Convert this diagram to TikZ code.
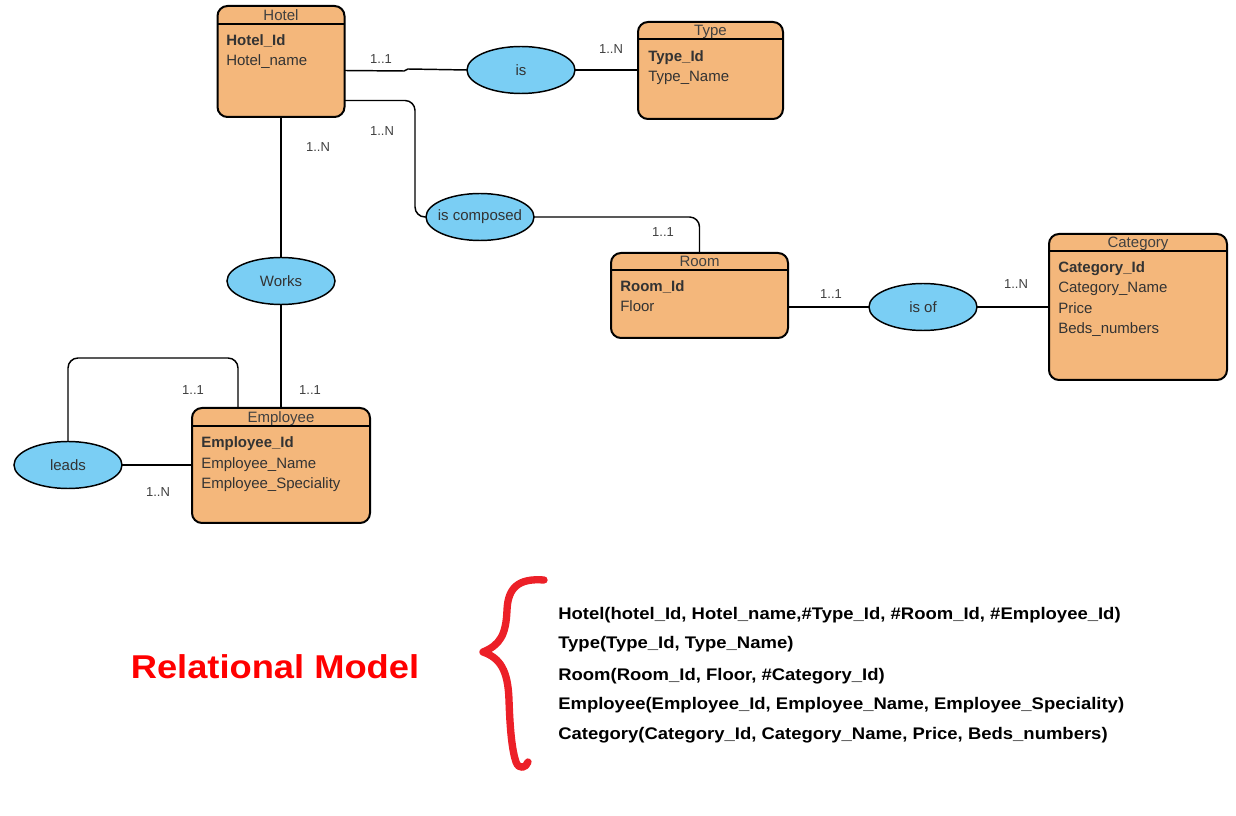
\documentclass[tikz,border=0pt]{standalone}
\usepackage{fontspec}
\setmainfont{Liberation Sans}
\newfontfamily\relfont[FakeStretch=1.1]{Liberation Sans}
\usetikzlibrary{shapes.geometric,calc}

\definecolor{entfill}{RGB}{244,183,123}
\definecolor{relfill}{RGB}{122,206,244}
\definecolor{bracered}{RGB}{236,32,40}

\newcommand\erfont{\fontsize{11.25}{13.5}\selectfont}
\newcommand\cardfont{\fontsize{9.75}{11.5}\selectfont}

\tikzset{
  entity/.style={draw=black, fill=entfill, line width=1.5pt, rounded corners=7.5pt, inner sep=0pt, outer sep=0pt},
  relation/.style={ellipse, draw=black, fill=relfill, line width=1.1pt, inner sep=0pt, outer sep=0pt,
    minimum width=81pt, minimum height=35.25pt, font=\erfont, text=black!80},
  etitle/.style={font=\erfont, text=black!75, inner sep=0pt, text height=10pt, text depth=1.5pt},
  attr/.style={font=\erfont, text=black!80, anchor=west, inner sep=0pt, text height=10pt, text depth=1.5pt},
  card/.style={font=\cardfont, text=black!75, inner sep=0pt},
  link/.style={line width=1.1pt, rounded corners=7.5pt},
  relline/.style={font=\relfont\fontsize{12.6}{15}\selectfont\bfseries, anchor=west, inner sep=0pt,
    text height=11pt, text depth=2pt}
}

\begin{document}
\begin{tikzpicture}[x=0.75pt,y=0.75pt,yscale=-1,xscale=1]
\useasboundingbox (0,0) rectangle (1236,816);

%Shape: Entity [Hotel]
\node [entity, minimum width=95.25pt, minimum height=83.25pt] (hotel) at (281,61.5) {};
\draw [line width=1.1pt] (hotel.west |- 0,24) -- (hotel.east |- 0,24) ;
\node [etitle] (hotel-t) at (281,15) {Hotel};
\node [attr] (hotel-a1) at (226,40) {\textbf{Hotel\_Id}};
\node [attr] (hotel-a2) at (226,60) {Hotel\_name};

%Shape: Entity [Type]
\node [entity, minimum width=108.75pt, minimum height=72.75pt] (type) at (710.5,70.5) {};
\draw [line width=1.1pt] (type.west |- 0,39) -- (type.east |- 0,39) ;
\node [etitle] (type-t) at (710.5,30) {Type};
\node [attr] (type-a1) at (648,56) {\textbf{Type\_Id}};
\node [attr] (type-a2) at (648,76) {Type\_Name};

%Shape: Entity [Room]
\node [entity, minimum width=132.75pt, minimum height=63.75pt] (room) at (699.5,295.5) {};
\draw [line width=1.1pt] (room.west |- 0,270) -- (room.east |- 0,270) ;
\node [etitle] (room-t) at (699.5,261) {Room};
\node [attr] (room-a1) at (620,286) {\textbf{Room\_Id}};
\node [attr] (room-a2) at (620,306) {Floor};

%Shape: Entity [Category]
\node [entity, minimum width=133.5pt, minimum height=109.5pt] (category) at (1138,307) {};
\draw [line width=1.1pt] (category.west |- 0,251) -- (category.east |- 0,251) ;
\node [etitle] (category-t) at (1138,242) {Category};
\node [attr] (category-a1) at (1058,267) {\textbf{Category\_Id}};
\node [attr] (category-a2) at (1058,287) {Category\_Name};
\node [attr] (category-a3) at (1058,308) {Price};
\node [attr] (category-a4) at (1058,328) {Beds\_numbers};

%Shape: Entity [Employee]
\node [entity, minimum width=133.5pt, minimum height=86.25pt] (employee) at (281,465.5) {};
\draw [line width=1.1pt] (employee.west |- 0,426) -- (employee.east |- 0,426) ;
\node [etitle] (employee-t) at (281,417) {Employee};
\node [attr] (employee-a1) at (201,442) {\textbf{Employee\_Id}};
\node [attr] (employee-a2) at (201,463) {Employee\_Name};
\node [attr] (employee-a3) at (201,483) {Employee\_Speciality};

%Shape: Ellipse [relations]
\node [relation] (is) at (521,70) {is};
\node [relation] (iscomp) at (480,217) {\makebox[0pt]{is composed}};
\node [relation] (works) at (281,281) {Works};
\node [relation] (isof) at (923,307) {is of};
\node [relation] (leads) at (68,465) {leads};

%Straight Lines [links]
\draw [link, rounded corners=0pt] ($(hotel.east)+(0,9)$) -- (404,71) -- (408,69) -- (is.west) ;
\draw [link] (is.east) -- (is.east -| type.west) ;
\draw [link] ($(hotel.east)+(0,39)$) -| ($(iscomp.west)+(-11,0)$) -- (iscomp.west) ;
\draw [link] (iscomp.east) -| (room.north) ;
\draw [link] (hotel.south) -- (works.north) ;
\draw [link] (works.south) -- (employee.north) ;
\coordinate (loop) at (238,358);
\draw [link] (leads.north) |- (loop) -- (loop |- employee.north) ;
\draw [link] (leads.east) -- (leads.east -| employee.west) ;
\draw [link] (isof.west -| room.east) -- (isof.west) ;
\draw [link] (isof.east) -- (isof.east -| category.west) ;

% Text Node [cardinalities]
\node [card] (c1) at (381,59) {1..1};
\node [card] (c2) at (611,49) {1..N};
\node [card] (c3) at (382,131) {1..N};
\node [card] (c4) at (318,147) {1..N};
\node [card] (c5) at (663,232) {1..1};
\node [card] (c6) at (831,294) {1..1};
\node [card] (c7) at (1016,284) {1..N};
\node [card] (c8) at (193,390) {1..1};
\node [card] (c9) at (310,390) {1..1};
\node [card] (c10) at (158,492) {1..N};

%Shape: Brace
\draw [color=bracered, line width=5.5pt, line cap=round, line join=round] (544,580) .. controls (518,578) and (508,588) .. (507,610) .. controls (506,635) and (500,645) .. (483,652) .. controls (500,658) and (508,670) .. (509,700) .. controls (510,730) and (512,750) .. (516,762) .. controls (519,770) and (526,768) .. (528,762) ;

% Text Node [relational model]
\node [font=\relfont\fontsize{24.75}{28}\selectfont\bfseries, text=red, inner sep=0pt] (title) at (275,667) {Relational Model};
\node [relline] (r1) at (558,613) {Hotel(hotel\_Id, Hotel\_name,\#Type\_Id, \#Room\_Id, \#Employee\_Id)};
\node [relline] (r2) at (558,642) {Type(Type\_Id, Type\_Name)};
\node [relline] (r3) at (558,674) {Room(Room\_Id, Floor, \#Category\_Id)};
\node [relline] (r4) at (558,703) {Employee(Employee\_Id, Employee\_Name, Employee\_Speciality)};
\node [relline] (r5) at (558,733) {Category(Category\_Id, Category\_Name, Price, Beds\_numbers)};

\end{tikzpicture}
\end{document}
